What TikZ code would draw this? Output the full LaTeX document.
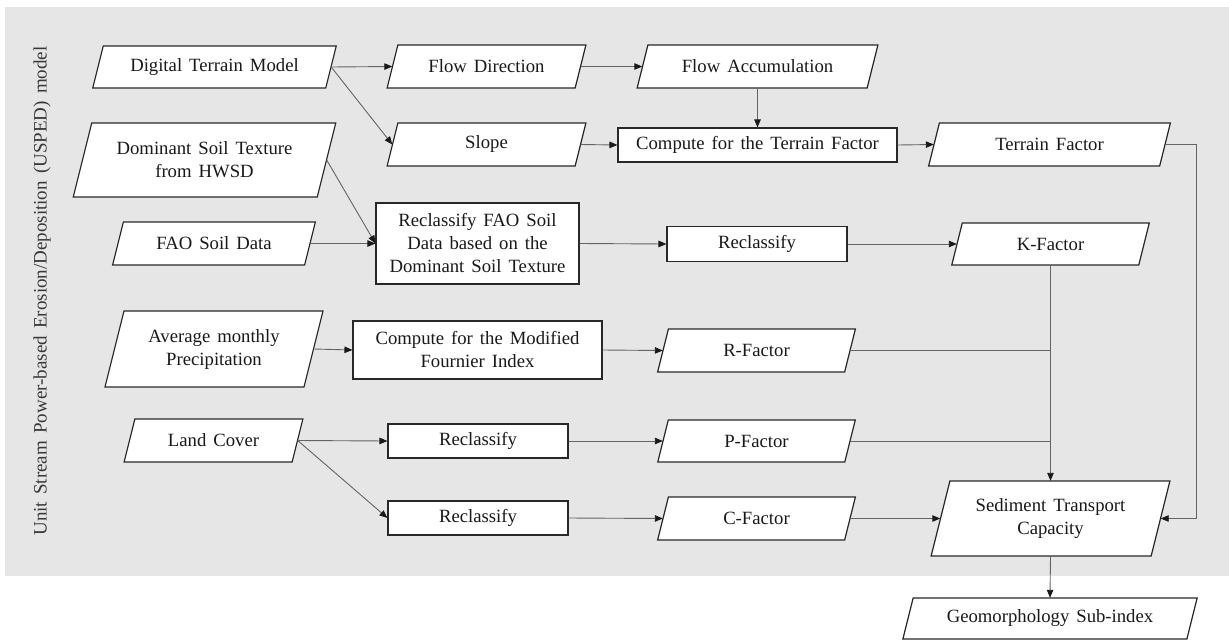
\documentclass[tikz,border=0pt]{standalone}
\usepackage{fontspec}
\setmainfont{Liberation Serif}[WordSpace=1.5]
\usetikzlibrary{arrows.meta,calc}
\definecolor{bggray}{RGB}{230,230,230}
\definecolor{boxline}{RGB}{40,40,40}
\definecolor{conline}{RGB}{100,100,100}
\definecolor{txtcol}{RGB}{25,25,25}
\newcommand\mkpara[6]{%
  \pgfmathsetmacro\halfsl{0.125*#5}%
  \filldraw[pshape] ({#2-#4/2-\halfsl},{#3+#5/2}) -- ({#2+#4/2-\halfsl},{#3+#5/2}) -- ({#2+#4/2+\halfsl},{#3-#5/2}) -- ({#2-#4/2+\halfsl},{#3-#5/2}) -- cycle;
  \node[ptext, minimum width=#4, minimum height=#5] (#1) at (#2,#3) {#6};
}
\begin{document}
\begin{tikzpicture}[x=1pt,y=-1pt,
  every node/.style={font=\fontsize{18.7}{23}\selectfont, text=txtcol},
  pshape/.style={draw=boxline, fill=white, line width=1.2pt, line join=miter},
  ptext/.style={rectangle, inner sep=0pt, align=center},
  rbox/.style={rectangle, draw=boxline, fill=white, line width=1.1pt, inner sep=0pt, align=center},
  conn/.style={draw=conline, line width=0.9pt, -{Triangle[length=8pt,width=6.5pt,color=black!90]}},
  plainline/.style={draw=conline, line width=0.9pt}]
\useasboundingbox (0,0) rectangle (1229,640);
\fill[bggray] (5,7) rectangle (1229,576);

\node[rotate=90, text=black!78, font=\fontsize{19}{23}\selectfont] (lbl) at (42,291) {Unit Stream Power-based Erosion/Deposition (USPED) model};

% row 1
\mkpara{dtm}{214.5}{67}{233}{42}{Digital Terrain Model}
\mkpara{fd}{486.5}{66.5}{188}{43}{Flow Direction}
\mkpara{fa}{757.5}{66.5}{230}{43}{Flow Accumulation}
% row 2
\mkpara{slope}{486.5}{144.5}{188}{43}{Slope}
\node[rbox, minimum width=279, minimum height=34] (ctf) at (757.5,145) {Compute for the Terrain Factor};
\mkpara{tf}{1049.5}{144.5}{231}{43}{Terrain Factor}
\mkpara{dst}{204.5}{160}{244}{74}{Dominant Soil Texture\\from HWSD}
% row 3
\mkpara{fao}{214}{243.5}{192}{43}{FAO Soil Data}
\node[rbox, minimum width=203, minimum height=81] (rfao) at (477.5,243.5) {Reclassify FAO Soil\\Data based on the\\Dominant Soil Texture};
\node[rbox, minimum width=180, minimum height=35] (rk) at (757,244) {Reclassify};
\mkpara{kf}{1050.5}{244}{187}{42}{K-Factor}
% row 4
\mkpara{prec}{214}{349}{199}{76}{Average monthly\\Precipitation}
\node[rbox, minimum width=249, minimum height=58] (mfi) at (477.5,350) {Compute for the Modified\\Fournier Index};
\mkpara{rf}{756.5}{350.5}{187}{43}{R-Factor}
% row 5
\mkpara{lc}{213.5}{440.5}{168}{43}{Land Cover}
\node[rbox, minimum width=180, minimum height=34] (rp) at (478,441) {Reclassify};
\mkpara{pf}{756.5}{441}{187}{42}{P-Factor}
% row 6
\node[rbox, minimum width=180, minimum height=34] (rc) at (478,518) {Reclassify};
\mkpara{cf}{756.5}{518.5}{187}{43}{C-Factor}
\mkpara{stc}{1050.5}{518.5}{220}{75}{Sediment Transport\\Capacity}
% output
\mkpara{geo}{1050}{618.5}{284}{41}{Geomorphology Sub-index}

\coordinate (tfc) at (1196,144.5);

% connectors
\draw[conn] (dtm.east) -- (fd.west);
\draw[conn] (dtm.east) -- (slope.west);
\draw[conn] (fd.east) -- (fa.west);
\draw[conn] (fa.south) -- (ctf.north);
\draw[conn] (slope.east) -- (ctf.west);
\draw[conn] (ctf.east) -- (tf.west);
\draw[conn] (tf.east) -- (tfc) |- (stc.east);
\draw[conn] (dst.east) -- (rfao.west);
\draw[conn] (fao.east) -- (rfao.west);
\draw[conn] (rfao.east) -- (rk.west);
\draw[conn] (rk.east) -- (kf.west);
\draw[conn] (kf.south) -- (stc.north);
\draw[conn] (prec.east) -- (mfi.west);
\draw[conn] (mfi.east) -- (rf.west);
\draw[plainline] (rf.east) -- (rf.east -| kf.south);
\draw[conn] (lc.east) -- (rp.west);
\draw[conn] (lc.east) -- (rc.west);
\draw[conn] (rp.east) -- (pf.west);
\draw[plainline] (pf.east) -- (pf.east -| kf.south);
\draw[conn] (rc.east) -- (cf.west);
\draw[conn] (cf.east) -- (stc.west);
\draw[conn] (stc.south) -- (geo.north);
\end{tikzpicture}
\end{document}
